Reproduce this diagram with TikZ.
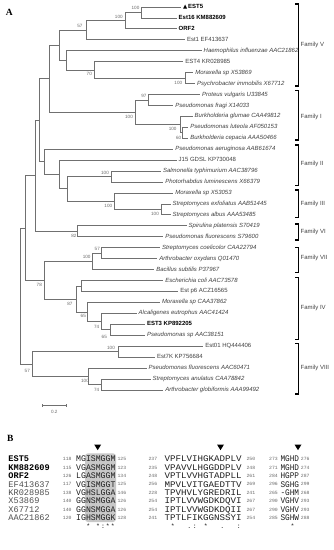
\documentclass[tikz,border=0pt]{standalone}
\usepackage{fontspec}
\usepackage{graphicx}
\setmainfont{Liberation Serif}
\setsansfont{Liberation Sans}
\newfontfamily\monof{Liberation Mono}
\newfontfamily\dejaf{DejaVu Sans}
\definecolor{brc}{HTML}{707070}
\definecolor{txc}{HTML}{404040}
\definecolor{numc}{HTML}{6A6A6A}
\definecolor{boxg}{HTML}{C8C8C8}
\definecolor{seqc}{HTML}{1E1E1E}
\definecolor{nmc}{HTML}{505050}
\newcommand\lf[4]{\coordinate (l#1) at (#2,{7+10.94*#1}); \node[#3] (t#1) at (l#1) {#4};}
\begin{document}
\begin{tikzpicture}[x=1pt,y=-1pt,
  br/.style={draw=brc, line width=0.8pt},
  leafn/.style={anchor=west, inner sep=0pt, xshift=1.8pt, text height=4.4pt, text depth=1.3pt, font=\sffamily\fontsize{6}{7}\selectfont, text=txc},
  leafi/.style={leafn, font=\sffamily\itshape\fontsize{6}{7}\selectfont},
  leafb/.style={leafn, font=\sffamily\bfseries\fontsize{6}{7}\selectfont, text=black},
  boot/.style={inner sep=0pt, font=\sffamily\fontsize{4.6}{5}\selectfont, text=numc},
  fambr/.style={draw=black, line width=1.1pt},
  famlbl/.style={anchor=west, inner sep=0pt, font=\sffamily\fontsize{6}{7}\selectfont, text=txc},
  plab/.style={inner sep=0pt, font=\rmfamily\bfseries\fontsize{9.5}{10}\selectfont},
  mn/.style={anchor=west, inner sep=0pt, text height=5.6pt, text depth=0pt, font=\monof\fontsize{8.6}{9}\selectfont},
  nmr/.style={mn, text=nmc},
  nmb/.style={mn, text=black, font=\monof\bfseries\fontsize{8.6}{9}\selectfont},
  sq/.style={mn, text=seqc},
  nn/.style={anchor=west, inner sep=0pt, text height=3.2pt, text depth=0pt, font=\monof\fontsize{4.8}{5}\selectfont, text=numc},
  cn/.style={anchor=base, inner sep=0pt, font=\monof\fontsize{6.5}{7}\selectfont, text=seqc}
]
\fill[white] (0,0) rectangle (333,550);
\useasboundingbox (0,0) rectangle (333,550);

% ---------- panel A ----------
\node[plab] (pA) at (9.3,12.3) {A};

\lf{0}{181}{leafb}{{\dejaf\fontsize{5.5}{6}\selectfont ▲}\,EST5}
\lf{1}{176.7}{leafb}{Est16 KM882609}
\lf{2}{176.7}{leafb}{ORF2}
\lf{3}{185}{leafn}{Est1 EF413637}
\lf{4}{201.7}{leafi}{Haemophilus influenzae AAC21862}
\lf{5}{183.3}{leafn}{EST4 KR028985}
\lf{6}{193.3}{leafi}{Moraxella sp X53869}
\lf{7}{195}{leafi}{Psychrobacter immobilis X67712}
\lf{8}{200}{leafi}{Proteus vulgaris U33845}
\lf{9}{173.3}{leafi}{Pseudomonas fragi X14033}
\lf{10}{192.7}{leafi}{Burkholderia glumae CAA49812}
\lf{11}{188.3}{leafi}{Pseudomonas luteola AF050153}
\lf{12}{188.3}{leafi}{Burkholderia cepacia AAA50466}
\lf{13}{173.3}{leafi}{Pseudomonas aeruginosa AAB61674}
\lf{14}{176.7}{leafn}{J15 GDSL KP730048}
\lf{15}{161}{leafi}{Salmonella typhimurium AAC38796}
\lf{16}{163.3}{leafi}{Photorhabdus luminescens X66379}
\lf{17}{173.3}{leafi}{Moraxella sp X53053}
\lf{18}{170.7}{leafi}{Streptomyces exfoliatus AAB51445}
\lf{19}{170.7}{leafi}{Streptomyces albus AAA53485}
\lf{20}{186.7}{leafi}{Spirulina platensis S70419}
\lf{21}{163.3}{leafi}{Pseudomonas fluorescens S79600}
\lf{22}{160}{leafi}{Streptomyces coelicolor CAA22794}
\lf{23}{157.3}{leafi}{Arthrobacter oxydans Q01470}
\lf{24}{154.3}{leafi}{Bacillus subtilis P37967}
\lf{25}{163.3}{leafi}{Escherichia coli AAC73578}
\lf{26}{178.3}{leafn}{Est p6 ACZ16565}
\lf{27}{160}{leafi}{Moraxella sp CAA37862}
\lf{28}{136.7}{leafi}{Alcaligenes eutrophus AAC41424}
\lf{29}{145}{leafb}{EST3 KP892205}
\lf{30}{145}{leafi}{Pseudomonas sp AAC38151}
\lf{31}{203.3}{leafn}{Est01 HQ444406}
\lf{32}{155}{leafn}{Est7K KP756684}
\lf{33}{146.7}{leafi}{Pseudomonas fluorescens AAC60471}
\lf{34}{150.7}{leafi}{Streptomyces anulatus CAA78842}
\lf{35}{163.3}{leafi}{Arthrobacter globiformis AAA99492}

% internal nodes
\coordinate (a1) at (141.7,12.47);
\coordinate (a2) at (125,20.68);
\coordinate (a3) at (86,30.25);
\coordinate (a4) at (185,78.11);
\coordinate (a5) at (94.3,69.91);
\coordinate (a6) at (66.7,60.33);
\coordinate (a7) at (59.3,45.29);
\coordinate (b1) at (148.3,99.99);
\coordinate (b2) at (182.7,132.81);
\coordinate (b3) at (180,124.6);
\coordinate (b4) at (135,112.3);
\coordinate (b5) at (49.3,78.8);
\coordinate (c1) at (111,176.57);
\coordinate (c2) at (161.7,209.39);
\coordinate (c3) at (114.3,201.19);
\coordinate (c4) at (67.7,188.88);
\coordinate (c5) at (59.3,174.52);
\coordinate (c6) at (44.3,161.87);
\coordinate (c7) at (39,120.34);
\coordinate (d1) at (77.7,231.27);
\coordinate (d2) at (35,175.8);
\coordinate (e1) at (101.7,253.15);
\coordinate (e2) at (92.3,261.36);
\coordinate (f1) at (81,285.97);
\coordinate (f2) at (110,329.73);
\coordinate (f3) at (101.7,321.53);
\coordinate (f4) at (87.7,311.96);
\coordinate (f5) at (76,298.97);
\coordinate (f6) at (44.3,280.17);
\coordinate (g) at (25,227.98);
\coordinate (h1) at (118.3,351.61);
\coordinate (h2) at (101,384.43);
\coordinate (h3) at (88.3,376.23);
\coordinate (h4) at (32.3,363.92);
\coordinate (root) at (20.7,295.95);

\draw[br]
 (a1) |- (l0) (a1) |- (l1)
 (a2) |- (a1) (a2) |- (l2)
 (a3) |- (a2) (a3) |- (l3)
 (a4) |- (l6) (a4) |- (l7)
 (a5) |- (l5) (a5) |- (a4)
 (a6) |- (l4) (a6) |- (a5)
 (a7) |- (a3) (a7) |- (a6)
 (b1) |- (l8) (b1) |- (l9)
 (b2) |- (l11) (b2) |- (l12)
 (b3) |- (l10) (b3) |- (b2)
 (b4) |- (b1) (b4) |- (b3)
 (b5) |- (a7) (b5) |- (b4)
 (c1) |- (l15) (c1) |- (l16)
 (c2) |- (l18) (c2) |- (l19)
 (c3) |- (l17) (c3) |- (c2)
 (c4) |- (c1) (c4) |- (c3)
 (c5) |- (l14) (c5) |- (c4)
 (c6) |- (l13) (c6) |- (c5)
 (c7) |- (b5) (c7) |- (c6)
 (d1) |- (l20) (d1) |- (l21)
 (d2) |- (c7) (d2) |- (d1)
 (e1) |- (l22) (e1) |- (l23)
 (e2) |- (e1) (e2) |- (l24)
 (f1) |- (l25) (f1) |- (l26)
 (f2) |- (l29) (f2) |- (l30)
 (f3) |- (l28) (f3) |- (f2)
 (f4) |- (l27) (f4) |- (f3)
 (f5) |- (f1) (f5) |- (f4)
 (f6) |- (e2) (f6) |- (f5)
 (g) |- (d2) (g) |- (f6)
 (h1) |- (l31) (h1) |- (l32)
 (h2) |- (l34) (h2) |- (l35)
 (h3) |- (l33) (h3) |- (h2)
 (h4) |- (h1) (h4) |- (h3)
 (root) |- (g) (root) |- (h4);

% bootstrap values
\node[boot] (bt1) at (135.5,8.3) {100};
\node[boot] (bt2) at (118.8,16.7) {100};
\node[boot] (bt3) at (80,26) {57};
\node[boot] (bt4) at (89.3,74) {70};
\node[boot] (bt5) at (178.3,83.3) {100};
\node[boot] (bt6) at (144,95.7) {97};
\node[boot] (bt7) at (129,116.5) {100};
\node[boot] (bt8) at (172.7,129) {100};
\node[boot] (bt9) at (178.7,137.7) {60};
\node[boot] (bt10) at (105,172.7) {100};
\node[boot] (bt11) at (108.3,205.5) {100};
\node[boot] (bt12) at (155,214.3) {100};
\node[boot] (bt13) at (74,235.7) {82};
\node[boot] (bt14) at (97.3,249.3) {57};
\node[boot] (bt15) at (86.7,257.3) {100};
\node[boot] (bt16) at (39.3,285) {78};
\node[boot] (bt17) at (70,304) {87};
\node[boot] (bt18) at (83.3,316) {65};
\node[boot] (bt19) at (96.7,326.7) {74};
\node[boot] (bt20) at (104.3,337.3) {65};
\node[boot] (bt21) at (111,348.3) {100};
\node[boot] (bt22) at (27.3,370.7) {57};
\node[boot] (bt23) at (85,380.7) {100};
\node[boot] (bt24) at (96.7,390) {74};

% family brackets
\draw[fambr] (295,4) -- (298.7,4) -- (298.7,86) -- (295,86);
\node[famlbl] (fV) at (300.5,45) {Family V};
\draw[fambr] (295,90.7) -- (298.7,90.7) -- (298.7,140) -- (295,140);
\node[famlbl] (fI) at (300.5,117) {Family I};
\draw[fambr] (295,145) -- (298.7,145) -- (298.7,185.7) -- (295,185.7);
\node[famlbl] (fII) at (300.5,164) {Family II};
\draw[fambr] (295,190) -- (298.7,190) -- (298.7,217.7) -- (295,217.7);
\node[famlbl] (fIII) at (300.5,204) {Family III};
\draw[fambr] (295,224) -- (298.7,224) -- (298.7,240) -- (295,240);
\node[famlbl] (fVI) at (300.5,232.3) {Family VI};
\draw[fambr] (295,247.7) -- (298.7,247.7) -- (298.7,272.7) -- (295,272.7);
\node[famlbl] (fVII) at (300.5,258.3) {Family VII};
\draw[fambr] (295,277.7) -- (298.7,277.7) -- (298.7,339.3) -- (295,339.3);
\node[famlbl] (fIV) at (300.5,308.3) {Family IV};
\draw[fambr] (295,343.3) -- (298.7,343.3) -- (298.7,394) -- (295,394);
\node[famlbl] (fVIII) at (300.5,368.3) {Family VIII};

% scale bar
\coordinate (sb1) at (42.7,405.7);
\coordinate (sb2) at (66,405.7);
\draw[br, line width=0.7pt] (sb1) -- (sb2);
\draw[br, line width=0.7pt] (42.7,404.2) -- (42.7,407.2) (66,404.2) -- (66,407.2);
\node[boot] (sbl) at (54.3,412.3) {0.2};

% ---------- panel B ----------
\node[plab] (pB) at (10.3,438.3) {B};
\fill[boxg, rounded corners=3pt] (85,453.3) rectangle (116,522);
\fill[black] (94.2,444.5) -- (101.2,444.5) -- (97.7,450.2) -- cycle;
\fill[black] (217,444.5) -- (224,444.5) -- (220.5,450.2) -- cycle;
\fill[black] (294.5,444.5) -- (301.5,444.5) -- (298,450.2) -- cycle;

\foreach \i/\zA/\zB/\zC/\zD/\zE/\zF/\zG/\zH/\zI/\zJ in {
 0/EST5/118/MGISMGGM/125/237/VPFLVIHGKADPLV/250/273/MGHD/276,
 1/KM882609/115/VGASMGGM/123/235/VPAVVLHGGDDPLV/248/271/MGHD/274,
 2/ORF2/126/LGASMGGM/134/248/VPTLVVHGTADPLL/261/284/HGPP/287}{
 \node[nmb] (nm\i) at (8.3,{459+8.4*\i}) {\zA};
 \node[nn] (na\i) at (62.7,{459+8.4*\i}) {\zB};
 \node[sq] (qa\i) at (76,{459+8.4*\i}) {\scalebox{0.95}[1]{\zC}};
 \node[nn] (nb\i) at (117.3,{459+8.4*\i}) {\zD};
 \node[nn] (nc\i) at (148.3,{459+8.4*\i}) {\zE};
 \node[sq] (qb\i) at (164.5,{459+8.4*\i}) {\scalebox{1.066}[1]{\zF}};
 \node[nn] (nd\i) at (246.3,{459+8.4*\i}) {\zG};
 \node[nn] (ne\i) at (269,{459+8.4*\i}) {\zH};
 \node[sq] (qc\i) at (280.3,{459+8.4*\i}) {\scalebox{0.9}[1]{\zI}};
 \node[nn] (nf\i) at (300.7,{459+8.4*\i}) {\zJ};
}
\foreach \i/\zA/\zB/\zC/\zD/\zE/\zF/\zG/\zH/\zI/\zJ in {
 3/EF413637/117/VGISMGGT/125/256/MPVLVITGAEDTTV/269/296/SGHG/299,
 4/KR028985/138/VGHSLGGA/146/228/TPVHVLYGREDRIL/241/265/-GHM/268,
 5/X53869/140/GGNSMGGA/126/254/IPTLVVWGDKDQVI/267/290/VGHV/293,
 6/X67712/140/GGNSMGGA/126/254/IPTLVVWGDKDQII/267/290/VGHV/293,
 7/AAC21862/120/IGHSMGGK/128/241/TPTLFIKGGNSSYI/254/285/SGHW/288}{
 \node[nmr] (nm\i) at (8.3,{459+8.4*\i}) {\zA};
 \node[nn] (na\i) at (62.7,{459+8.4*\i}) {\zB};
 \node[sq] (qa\i) at (76,{459+8.4*\i}) {\scalebox{0.95}[1]{\zC}};
 \node[nn] (nb\i) at (117.3,{459+8.4*\i}) {\zD};
 \node[nn] (nc\i) at (148.3,{459+8.4*\i}) {\zE};
 \node[sq] (qb\i) at (164.5,{459+8.4*\i}) {\scalebox{1.066}[1]{\zF}};
 \node[nn] (nd\i) at (246.3,{459+8.4*\i}) {\zG};
 \node[nn] (ne\i) at (269,{459+8.4*\i}) {\zH};
 \node[sq] (qc\i) at (280.3,{459+8.4*\i}) {\scalebox{0.9}[1]{\zI}};
 \node[nn] (nf\i) at (300.7,{459+8.4*\i}) {\zJ};
}

% conservation marks
\node[cn] (cs1) at (88.3,528.3) {*};
\node[cn] (cs2) at (98.1,528.3) {*};
\node[cn] (cs3) at (103,528.3) {:};
\node[cn] (cs4) at (107.9,528.3) {*};
\node[cn] (cs5) at (112.8,528.3) {*};
\node[cn] (cs6) at (172.8,528.3) {*};
\node[cn] (cs7) at (189.3,528.3) {.};
\node[cn] (cs8) at (194.8,528.3) {:};
\node[cn] (cs9) at (205.8,528.3) {*};
\node[cn] (cs10) at (222.3,528.3) {.};
\node[cn] (cs11) at (238.8,528.3) {:};
\node[cn] (cs12) at (292.5,528.3) {*};
\end{tikzpicture}
\end{document}
